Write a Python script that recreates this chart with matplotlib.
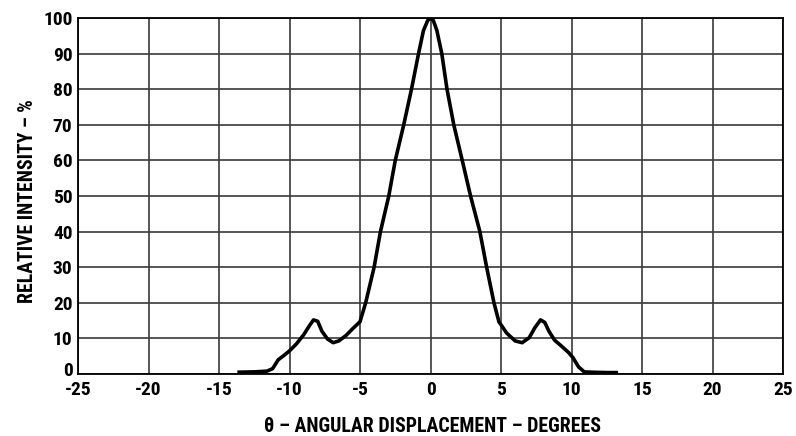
import matplotlib
matplotlib.use("Agg")
import matplotlib.pyplot as plt
from matplotlib import font_manager
from matplotlib.transforms import ScaledTranslation

# Data
theta = [-13.7, -12.5, -11.6, -11.2, -10.8, -10.4, -10.0, -9.5, -9.0, -8.6, -8.3, -8.0,
         -7.7, -7.3, -6.9, -6.5, -6.0, -5.5, -5.0, -4.6, -4.0, -3.55, -2.96, -2.5, -1.9,
         -1.35, -0.85, -0.5, -0.2, 0.0, 0.2, 0.45, 0.8, 1.17, 1.65, 2.25, 2.84, 3.5, 3.98,
         4.5, 4.85, 5.4, 6.0, 6.5, 7.0, 7.4, 7.8, 8.1, 8.4, 8.8, 9.3, 9.8, 10.1, 10.5,
         10.9, 11.5, 12.5, 13.3]
intensity = [0.5, 0.6, 0.8, 1.5, 4.0, 5.2, 6.5, 8.5, 11.0, 13.5, 15.2, 14.8,
             12.0, 9.8, 8.8, 9.3, 10.8, 12.8, 14.7, 20.0, 30.0, 40.0, 50.0, 60.0, 70.0,
             80.0, 90.0, 96.5, 99.3, 100.0, 99.3, 96.5, 90.0, 80.0, 70.0, 60.0, 50.0, 40.0, 30.0,
             20.0, 14.7, 11.5, 9.3, 8.8, 10.2, 13.0, 15.2, 14.5, 12.0, 9.5, 7.8, 6.0, 4.6, 2.0,
             0.6, 0.5, 0.4, 0.4]
x_ticks = list(range(-25, 30, 5))
y_ticks = list(range(0, 110, 10))
x_label = "\u03b8 \u2013 ANGULAR DISPLACEMENT \u2013 DEGREES"
y_label = "RELATIVE INTENSITY \u2013 %"

# Prefer a condensed bold face if one is installed
font_props = dict(family=["Liberation Sans", "DejaVu Sans"], stretch="normal")
narrow_names = ["Liberation Sans Narrow", "Roboto Condensed", "Open Sans Condensed"]
names = {f.name for f in font_manager.fontManager.ttflist}
found = [n for n in narrow_names if n in names]
if found:
    font_props = dict(family=[found[0], "DejaVu Sans"], stretch="normal")
else:
    cond = [f for f in font_manager.fontManager.ttflist
            if "condensed" in str(f.stretch).lower() or "Condensed" in f.fname]
    if cond:
        font_props = dict(family=[cond[0].name, "DejaVu Sans"], stretch="condensed")
plt.rcParams['font.family'] = font_props["family"]
plt.rcParams['font.stretch'] = font_props["stretch"]

fig = plt.figure(figsize=(7.96, 4.36), dpi=100)
ax = fig.add_axes([0.098, 0.1422, 0.8857, 0.8165])

ax.plot(theta, intensity, color="black", linewidth=2.6, solid_joinstyle="round",
        solid_capstyle="butt", zorder=3)

ax.set_xlim(-25, 25)
ax.set_ylim(0, 100)
ax.set_xticks(x_ticks)
ax.set_yticks(y_ticks)
ax.set_xticklabels([str(v) for v in x_ticks])
ax.set_yticklabels([str(v) for v in y_ticks])
ax.grid(True, color="#3a3a3a", linewidth=1.2)
ax.set_axisbelow(True)
for s in ax.spines.values():
    s.set_color("black")
    s.set_linewidth(1.3)
ax.tick_params(axis="x", length=0, labelsize=14, pad=5)
ax.tick_params(axis="y", length=0, labelsize=14, pad=4)
for lbl in ax.get_xticklabels() + ax.get_yticklabels():
    lbl.set_fontweight("bold")
# lift the y "0" label a little so it clears the "-25" below it
ylab0 = ax.yaxis.get_major_ticks()[0].label1
ylab0.set_transform(ylab0.get_transform() + ScaledTranslation(0, 3.5 / 72, fig.dpi_scale_trans))

ax.set_xlabel(x_label, fontsize=14.3, fontweight="bold")
ax.set_ylabel(y_label, fontsize=14.2, fontweight="bold")
ax.xaxis.set_label_coords(0.503, -0.122)
ax.yaxis.set_label_coords(-0.058, 0.486)

fig.savefig("out.png", dpi=100)
